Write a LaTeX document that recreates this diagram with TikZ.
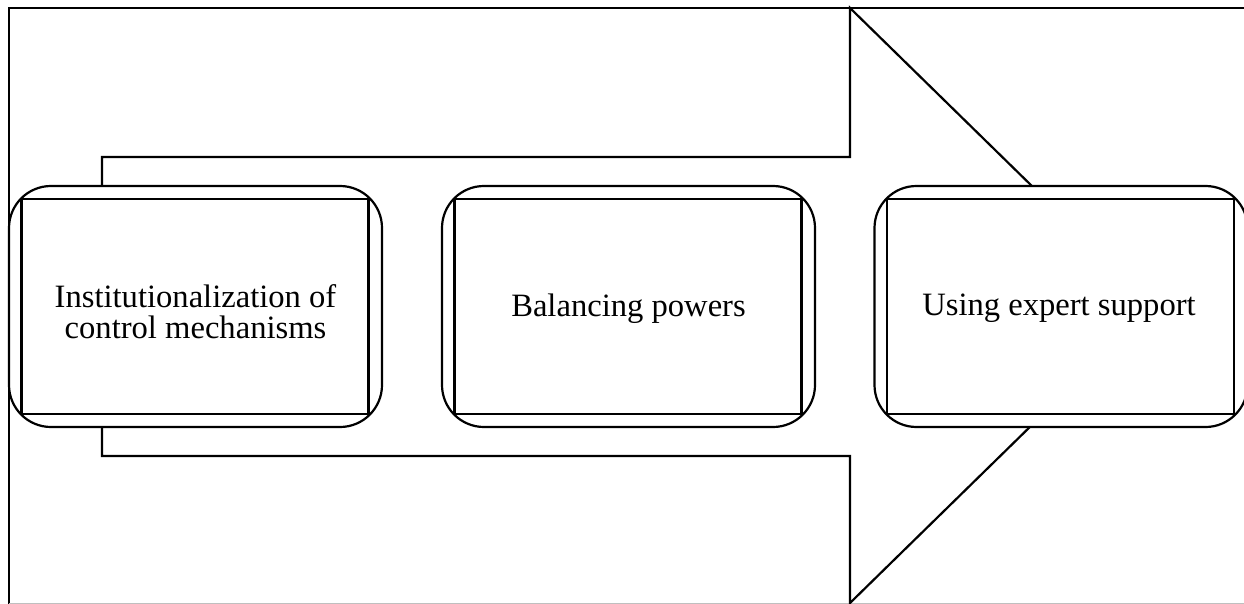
\documentclass[tikz,border=0pt]{standalone}
\usepackage{fontspec}
\setmainfont{Liberation Serif}
\usetikzlibrary{calc}
\begin{document}
\begin{tikzpicture}[x=1pt,y=-1pt,
  line width=2.2pt, line join=miter,
  stagebox/.style={draw, fill=white, rounded corners=42pt, minimum width=373pt, minimum height=241pt,
    inner sep=0pt, outer sep=0pt},
  stagetext/.style={align=center, inner sep=0pt, font=\fontsize{32.6}{30.5}\selectfont},
  innerbox/.style={draw}]
\useasboundingbox (0,0) rectangle (1244,604);
\clip (0,0) rectangle (1244,604);
% outer frame
\draw (1260,8) -- (9,8) -- (9,603.5);
\draw[gray!50, line width=1.5pt] (9,603.5) -- (1260,603.5);
% big arrow
\draw[fill=white] (102,157) -- (850,157) -- (850,8) -- (1154,305.5) -- (850,603) -- (850,456) -- (102,456) -- cycle;
% boxes
\node[stagebox] (b1) at (195.5,306.5) {};
\node[stagebox] (b2) at (628.5,306.5) {};
\node[stagebox] (b3) at (1061,306.5) {};
\foreach \b in {b1,b2,b3}{
  \draw[innerbox] ($(\b.north west)+(12.5,13)$) rectangle ($(\b.south east)+(-13.5,-13)$);
}
\node[stagetext] (t1) at ($(b1.center)+(0,5)$) {Institutionalization of\\control mechanisms};
\node[stagetext] (t2) at ($(b2.center)+(0,2)$) {Balancing powers};
\node[stagetext] (t3) at ($(b3.center)+(-2,2)$) {Using expert support};
\end{tikzpicture}
\end{document}
